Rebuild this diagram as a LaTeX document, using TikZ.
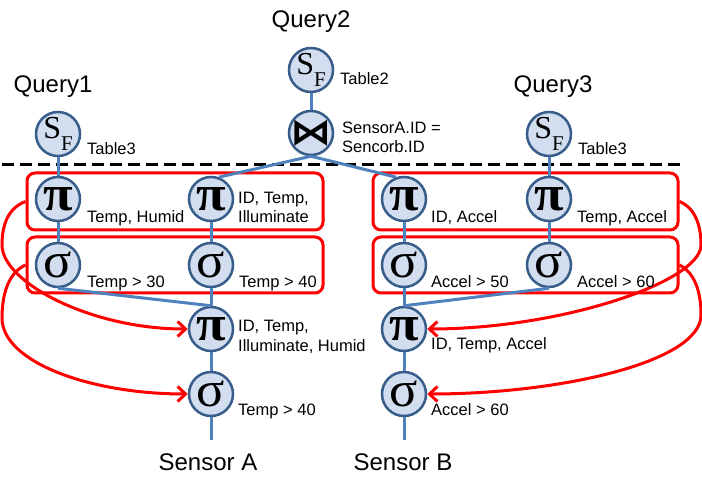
\documentclass[tikz,border=0pt]{standalone}
\usepackage{fontspec}
\setmainfont{Liberation Sans}
\newfontfamily\symserif{Liberation Serif}
\newfontfamily\symdejavu{DejaVu Sans}
\usetikzlibrary{arrows.meta}
\definecolor{circfill}{RGB}{210,222,239}
\definecolor{circedge}{RGB}{56,93,138}
\definecolor{linkblue}{RGB}{79,129,189}
\newcommand{\opSF}{{\symserif\fontsize{32}{32}\selectfont S\raisebox{-12pt}{\fontsize{21}{21}\selectfont F}}}
\newcommand{\opPi}{{\symserif\bfseries\fontsize{50}{50}\selectfont\scalebox{1.08}[1]{π}}}
\newcommand{\opSigma}{{\symserif\fontsize{50}{50}\selectfont\scalebox{1.05}[1]{σ}}}
\newcommand{\opJoin}{{\symdejavu\bfseries\fontsize{36}{36}\selectfont\scalebox{1.15}[1]{⋈}}}
\begin{document}
\begin{tikzpicture}[x=1pt,y=-1pt,
  op/.style={circle, draw=circedge, fill=circfill, line width=2.5pt, minimum size=44pt, inner sep=0pt},
  sym/.style={label={[inner sep=0pt]center:#1}},
  lbl/.style={anchor=base west, inner sep=0pt, font=\fontsize{16.5}{19}\selectfont},
  qlbl/.style={anchor=base, inner sep=0pt, font=\fontsize{24}{28}\selectfont},
  link/.style={draw=linkblue, line width=3pt},
  redbox/.style={draw=red, line width=3pt, rounded corners=8pt, inner sep=0pt},
  reuse/.style={draw=red, line width=3pt, -{Straight Barb[length=8pt,width=15pt,line width=3pt]}},
  divider/.style={draw=black, line width=3pt, dash pattern=on 12pt off 6pt}]
\useasboundingbox (0,0) rectangle (702,478);

% divider
\coordinate (dl) at (2,165);
\coordinate (dr) at (684,165);
\draw[divider] (dl) -- (dr);

% operator circles
\node[op, sym=\opSF] (q1sf) at (58,134) {};
\node[op, sym=\opSF] (q2sf) at (311,70) {};
\node[op, sym=\opJoin] (join) at (311,133) {};
\node[op, sym=\opSF] (q3sf) at (549,134) {};
\node[op, sym=\opPi] (pA1) at (58,199) {};
\node[op, sym=\opPi] (pA2) at (211,199) {};
\node[op, sym=\opPi] (pB1) at (404,199) {};
\node[op, sym=\opPi] (pB2) at (549,199) {};
\node[op, sym=\opSigma] (sA1) at (58,265) {};
\node[op, sym=\opSigma] (sA2) at (211,265) {};
\node[op, sym=\opSigma] (sB1) at (404,265) {};
\node[op, sym=\opSigma] (sB2) at (549,265) {};
\node[op, sym=\opPi] (lpA) at (211,329) {};
\node[op, sym=\opPi] (lpB) at (404,329) {};
\node[op, sym=\opSigma] (lsA) at (211,394) {};
\node[op, sym=\opSigma] (lsB) at (404,394) {};
\coordinate (endA) at (211,440);
\coordinate (endB) at (404,440);

% red groups
\node[redbox, minimum width=296pt, minimum height=57pt] (boxL1) at (175,201.5) {};
\node[redbox, minimum width=296pt, minimum height=56pt] (boxL2) at (175,265) {};
\node[redbox, minimum width=305pt, minimum height=57pt] (boxR1) at (525.5,201.5) {};
\node[redbox, minimum width=305pt, minimum height=56pt] (boxR2) at (525.5,265) {};

% links
\draw[link] (q1sf) -- (pA1);
\draw[link] (pA1) -- (sA1);
\draw[link] (sA1.south) -- (lpA.north);
\draw[link] (pA2) -- (sA2);
\draw[link] (sA2) -- (lpA);
\draw[link] (lpA) -- (lsA);
\draw[link] (lsA) -- (endA);
\draw[link] (q2sf) -- (join);
\draw[link] (join.south) -- (pA2.70);
\draw[link] (join.south) -- (pB1.110);
\draw[link] (q3sf) -- (pB2);
\draw[link] (pB2) -- (sB2);
\draw[link] (sB2.south) -- (lpB.north);
\draw[link] (pB1) -- (sB1);
\draw[link] (sB1) -- (lpB);
\draw[link] (lpB) -- (lsB);
\draw[link] (lsB) -- (endB);

% reuse arrows
\draw[reuse] (boxL1.west) .. controls (8,208) and (2,225) .. (2,245) .. controls (2,282) and (90,329) .. (lpA.west);
\draw[reuse] (boxL2.west) .. controls (8,273) and (2,295) .. (2,318) .. controls (2,362) and (90,394) .. (lsA.west);
\draw[reuse] (boxR1.east) .. controls (695,208) and (701,225) .. (701,245) .. controls (701,282) and (560,329) .. (lpB.east);
\draw[reuse] (boxR2.east) .. controls (695,273) and (701,292) .. (701,315) .. controls (701,362) and (560,394) .. (lsB.east);

% query / sensor titles
\node[qlbl] (tq1) at (53,93) {Query1};
\node[qlbl] (tq2) at (311,28) {Query2};
\node[qlbl] (tq3) at (553,93) {Query3};
\node[qlbl] (tsa) at (208,470) {Sensor A};
\node[qlbl] (tsb) at (403,470) {Sensor B};

% operator labels
\node[lbl] (l1) at (87,155) {Table3};
\node[lbl] (l2) at (340,85) {Table2};
\node[lbl] (l3a) at (342,134) {SensorA.ID =};
\node[lbl] (l3b) at (342,153) {Sencorb.ID};
\node[lbl] (l4) at (578,155) {Table3};
\node[lbl] (l5) at (87,223) {Temp, Humid};
\node[lbl] (l6a) at (238,204) {ID, Temp,};
\node[lbl] (l6b) at (238,223) {Illuminate};
\node[lbl] (l7) at (431,223) {ID, Accel};
\node[lbl] (l8) at (577,223) {Temp, Accel};
\node[lbl] (l9) at (87,288) {Temp > 30};
\node[lbl] (l10) at (239,288) {Temp > 40};
\node[lbl] (l11) at (431,288) {Accel > 50};
\node[lbl] (l12) at (577,288) {Accel > 60};
\node[lbl] (l13a) at (238,332) {ID, Temp,};
\node[lbl] (l13b) at (238,352) {Illuminate, Humid};
\node[lbl] (l14) at (431,350) {ID, Temp, Accel};
\node[lbl] (l15) at (238,416) {Temp > 40};
\node[lbl] (l16) at (431,416) {Accel > 60};
\end{tikzpicture}
\end{document}
